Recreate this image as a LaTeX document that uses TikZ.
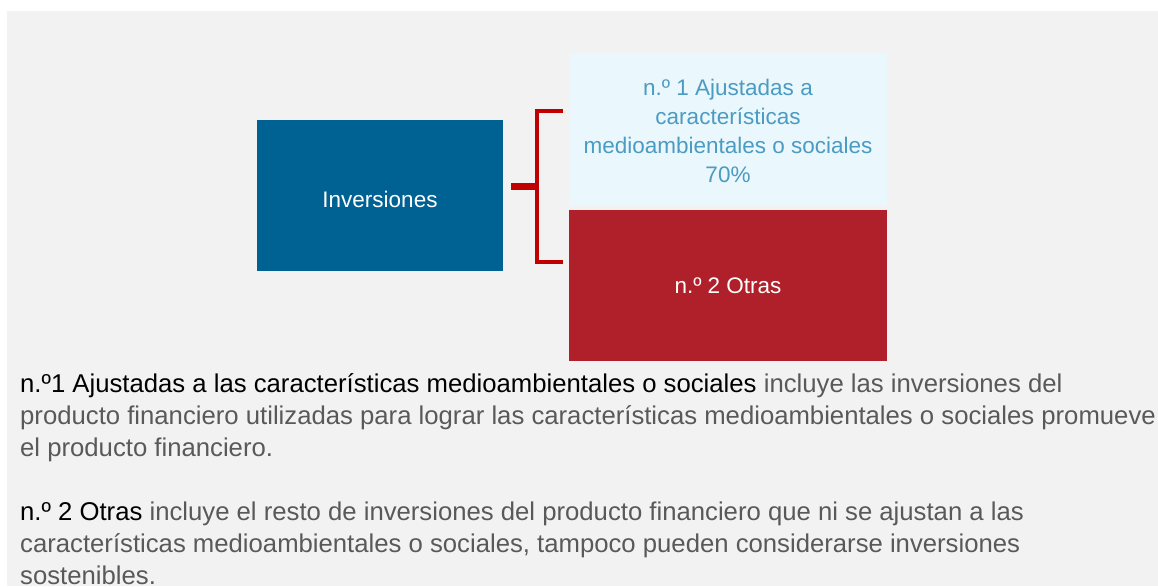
\documentclass[tikz,border=0pt]{standalone}
\usepackage{fontspec}
\setmainfont{Liberation Sans}
\usetikzlibrary{positioning}
\definecolor{panelgray}{HTML}{F2F2F2}
\definecolor{invblue}{HTML}{006193}
\definecolor{lightcyan}{HTML}{EAF7FC}
\definecolor{cyantext}{HTML}{4B9BC2}
\definecolor{otrared}{HTML}{B0202A}
\definecolor{brackred}{HTML}{C00000}
\definecolor{bodygray}{HTML}{595959}

\begin{document}
\begin{tikzpicture}[x=1pt,y=-1pt,
    catbox/.style={inner sep=0pt,align=center,font=\fontsize{22.5}{29}\selectfont},
    bodytext/.style={anchor=base west,align=left,inner sep=0pt,text=bodygray,font=\fontsize{25.7}{32}\selectfont}]
        \useasboundingbox (0,0) rectangle (1158,586);
        \fill[white] (0,0) rectangle (1158,586);
        \fill[panelgray] (7,11) rectangle (1158,586);

        % boxes
        \node[catbox,fill=invblue,minimum width=246pt,minimum height=151pt] (inv) at (380,195.5) {};
        \node[catbox,text=white] (invtxt) at (380,199) {Inversiones};
        \node[catbox,fill=lightcyan,minimum width=318pt,minimum height=152pt] (aj) at (728,129) {};
        \node[catbox,text=cyantext] (ajtxt) at (728,131)
            {n.º 1 Ajustadas a\\características\\medioambientales o sociales\\70\%};
        \node[catbox,fill=otrared,text=white,minimum width=318pt,minimum height=151pt] (otr) at (728,285.5) {n.º 2 Otras};

        % bracket
        \coordinate (stub) at (511,186);
        \coordinate (mid) at (537,186);
        \coordinate (top) at (563,111);
        \coordinate (bot) at (563,262);
        \draw[brackred,line width=7pt] (stub) -- (mid);
        \draw[brackred,line width=3.5pt] (top) -- (mid |- top) -- (mid |- bot) -- (bot);

        % explanation (base = last line)
        \node[bodytext] (t1) at (20,456) {\textcolor{black}{n.º1 Ajustadas a las características medioambientales o sociales} incluye las inversiones del\\
            producto financiero utilizadas para lograr las características medioambientales o sociales promueve\\
            el producto financiero.};
        \node[bodytext] (t2) at (20,584) {\textcolor{black}{n.º 2 Otras} incluye el resto de inversiones del producto financiero que ni se ajustan a las\\
            características medioambientales o sociales, tampoco pueden considerarse inversiones\\
            sostenibles.};
    \end{tikzpicture}
\end{document}
